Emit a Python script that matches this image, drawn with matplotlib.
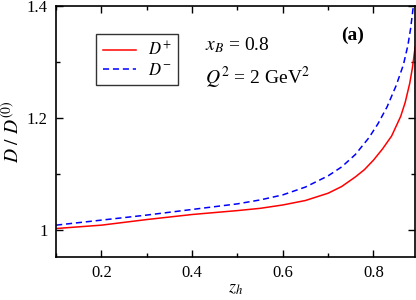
import matplotlib
matplotlib.use("Agg")
import matplotlib.pyplot as plt
from matplotlib.ticker import MultipleLocator

plt.rcParams["font.family"] = "Liberation Serif"
plt.rcParams["mathtext.fontset"] = "stix"

# values
z_plus = [0.10, 0.20, 0.30, 0.40, 0.50, 0.55, 0.60, 0.65, 0.70, 0.73, 0.76, 0.78, 0.80,
          0.82, 0.84, 0.86, 0.87, 0.88, 0.886, 0.892]
d_plus = [1.003, 1.009, 1.019, 1.028, 1.035, 1.039, 1.045, 1.053, 1.066, 1.078, 1.095,
          1.108, 1.125, 1.145, 1.168, 1.203, 1.228, 1.262, 1.290, 1.327]

z_minus = [0.10, 0.20, 0.30, 0.40, 0.50, 0.55, 0.60, 0.65, 0.70, 0.73, 0.76, 0.79, 0.81,
           0.83, 0.85, 0.866, 0.876, 0.882, 0.888]
d_minus = [1.009, 1.018, 1.027, 1.037, 1.047, 1.054, 1.063, 1.077, 1.097, 1.113, 1.135,
           1.165, 1.190, 1.220, 1.258, 1.295, 1.330, 1.360, 1.400]

fig = plt.figure(figsize=(4.16, 3.0), dpi=100)
ax = fig.add_axes([0.135, 0.143, 0.863, 0.837])

ax.plot(z_plus, d_plus, color="red", lw=1.1, label="$D^{+}$")
ax.plot(z_minus, d_minus, color="blue", lw=1.1, ls=(0, (4, 2.5)), label="$D^{-}$")

ax.set_xlim(0.1, 0.892)
ax.set_ylim(0.952, 1.4)
ax.xaxis.set_minor_locator(MultipleLocator(0.1))
ax.yaxis.set_minor_locator(MultipleLocator(0.1))
ax.set_xticks([0.2, 0.4, 0.6, 0.8])
ax.set_xticklabels(["0.2", "0.4", "0.6", "0.8"])
ax.set_yticks([1.0, 1.2, 1.4])
ax.set_yticklabels(["1", "1.2", "1.4"])
ax.tick_params(which="both", direction="in", top=True, right=True, labelsize=12, width=1)
ax.tick_params(which="major", length=5, pad=6)
ax.tick_params(which="minor", length=3)
for s in ax.spines.values():
    s.set_linewidth(1.2)

ax.set_xlabel("$z_h$", fontsize=13, labelpad=-1)
ax.set_ylabel("$D\\ /\\ D^{(0)}$", fontsize=14, labelpad=3)

leg = ax.legend(loc="upper left", bbox_to_anchor=(0.111, 0.888), fontsize=12,
                frameon=True, fancybox=False, handlelength=2.0, borderpad=0.4,
                labelspacing=0.2, borderaxespad=0, handletextpad=0.7)
leg.get_frame().set_edgecolor("black")
leg.get_frame().set_linewidth(1.0)

ax.text(0.415, 0.845, "$x_B$ = 0.8", transform=ax.transAxes, fontsize=14, va="center")
ax.text(0.415, 0.715, "$Q^2$ = 2 GeV$^2$", transform=ax.transAxes, fontsize=14, va="center")
ax.text(0.795, 0.885, "(a)", transform=ax.transAxes, fontsize=14, fontweight="bold",
        va="center")

fig.savefig("out.png", dpi=100)
